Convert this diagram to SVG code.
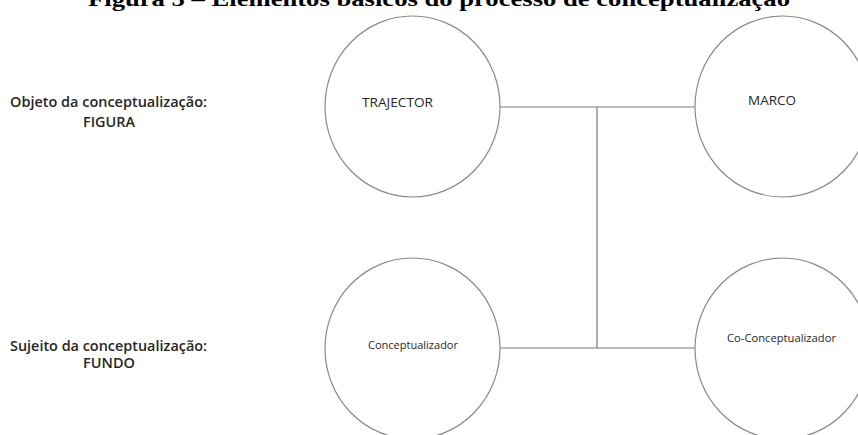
<svg xmlns="http://www.w3.org/2000/svg" width="858" height="435" viewBox="0 0 858 435">
<style>
  .node { fill: #ffffff; stroke: #8a8a8a; stroke-width: 1.2; }
  .conn { stroke: #7a7a7a; stroke-width: 1.2; fill: none; }
  .lbl { font-family: "Open Sans", "Liberation Sans", sans-serif; fill: #262626; }
  .side { font-family: "Open Sans", "Liberation Sans", sans-serif; font-weight: 600; font-size: 13.5px; fill: #262626; }
  .title { font-family: "Liberation Serif", "Times New Roman", serif; font-weight: bold; font-size: 21px; fill: #000; }
</style>
<rect width="858" height="435" fill="#ffffff"/>
<text class="title" x="88" y="6" textLength="702" lengthAdjust="spacingAndGlyphs">Figura 3 – Elementos básicos do processo de conceptualização</text>

<g id="label-figura">
  <text class="side" x="10" y="107" textLength="197" lengthAdjust="spacingAndGlyphs">Objeto da conceptualização:</text>
  <text class="side" x="83" y="127" textLength="52" lengthAdjust="spacingAndGlyphs">FIGURA</text>
</g>
<g id="label-fundo">
  <text class="side" x="10" y="351" textLength="197" lengthAdjust="spacingAndGlyphs">Sujeito da conceptualização:</text>
  <text class="side" x="83" y="368" textLength="52" lengthAdjust="spacingAndGlyphs">FUNDO</text>
</g>

<g id="connectors">
  <line class="conn" x1="500" y1="107" x2="695" y2="107"/>
  <line class="conn" x1="500" y1="348" x2="695" y2="348"/>
  <line class="conn" x1="597" y1="107" x2="597" y2="348"/>
</g>

<g id="trajector">
  <ellipse class="node" cx="412.5" cy="106.5" rx="87.5" ry="90.5"/>
  <text class="lbl" x="362" y="107" font-size="12.5" textLength="71" lengthAdjust="spacingAndGlyphs">TRAJECTOR</text>
</g>
<g id="marco">
  <ellipse class="node" cx="782.5" cy="106.5" rx="87.5" ry="90.5"/>
  <text class="lbl" x="748" y="105" font-size="12.5" textLength="48" lengthAdjust="spacingAndGlyphs">MARCO</text>
</g>
<g id="conceptualizador">
  <ellipse class="node" cx="412.5" cy="348.5" rx="87.5" ry="90.5"/>
  <text class="lbl" x="368" y="349" font-size="10.5" textLength="90" lengthAdjust="spacingAndGlyphs">Conceptualizador</text>
</g>
<g id="co-conceptualizador">
  <ellipse class="node" cx="782.5" cy="348.5" rx="87.5" ry="90.5"/>
  <text class="lbl" x="727" y="342" font-size="10.5" textLength="109" lengthAdjust="spacingAndGlyphs">Co-Conceptualizador</text>
</g>
</svg>
